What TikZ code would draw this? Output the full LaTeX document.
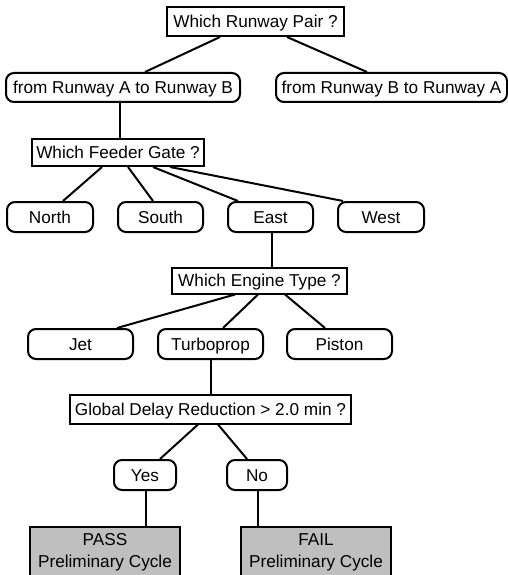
\documentclass[tikz,border=0pt]{standalone}
\usepackage{fontspec}
\setmainfont{Liberation Sans}
\begin{document}
\begin{tikzpicture}[x=1pt,y=-1pt,
  base/.style={draw=black, line width=2pt, inner sep=0pt, text height=12.3pt, text depth=0pt,
    font=\fontsize{17.2}{22}\selectfont, minimum height=29pt},
  qbox/.style={base, rectangle},
  abox/.style={base, rectangle, rounded corners=8pt, minimum height=30pt},
  endbox/.style={draw=black, line width=2pt, fill=gray!50, inner sep=0pt, anchor=north,
    font=\fontsize{17.2}{22}\selectfont, minimum width=150pt, text height=18pt, text depth=50pt},
  conn/.style={line width=2pt}]
\useasboundingbox (0,0) rectangle (508,575);
\node[qbox, minimum width=177pt] (q1) at (255.5,21.5) {Which Runway Pair ?};
\node[abox, minimum width=234pt, minimum height=29pt] (rA) at (123,87.5) {from Runway A to Runway B};
\node[abox, minimum width=231pt, minimum height=29pt] (rB) at (391.5,87.5) {from Runway B to Runway A};
\node[qbox, minimum width=172pt, minimum height=27pt] (gate) at (118,152.5) {Which Feeder Gate ?};
\node[abox, minimum width=86pt] (north) at (50,217) {North};
\node[abox, minimum width=85pt] (south) at (160.5,217) {South};
\node[abox, minimum width=85pt] (east) at (270.5,217) {East};
\node[abox, minimum width=86pt] (west) at (381,217) {West};
\node[qbox, minimum width=175pt, minimum height=26pt] (engine) at (259.5,280.5) {Which Engine Type ?};
\node[abox, minimum width=105pt] (jet) at (80.5,344) {Jet};
\node[abox, minimum width=105pt] (turbo) at (210.5,344) {Turboprop};
\node[abox, minimum width=105pt] (piston) at (339.5,344) {Piston};
\node[qbox, minimum width=281pt] (global) at (210.5,409) {Global Delay Reduction > 2.0 min ?};
\node[abox, minimum width=62pt] (yes) at (145,475) {Yes};
\node[abox, minimum width=60pt] (no) at (257,475) {No};
\node[endbox] (pass) at (105,526) {\begin{tabular}[t]{@{}c@{}}PASS\\Preliminary Cycle\end{tabular}};
\node[endbox] (fail) at (316,526) {\begin{tabular}[t]{@{}c@{}}FAIL\\Preliminary Cycle\end{tabular}};

\draw[conn] ([xshift=-35.5pt]q1.south) -- ([xshift=22pt]rA.north);
\draw[conn] ([xshift=31.5pt]q1.south) -- ([xshift=-24.5pt]rB.north);
\draw[conn] ([xshift=-3pt]rA.south) -- ([xshift=2pt]gate.north);
\draw[conn] ([xshift=-16pt]gate.south) -- ([xshift=13pt]north.north);
\draw[conn] ([xshift=10pt]gate.south) -- ([xshift=-7.5pt]south.north);
\draw[conn] ([xshift=35pt]gate.south) -- ([xshift=-32.5pt]east.north);
\draw[conn] ([xshift=52pt]gate.south) -- ([xshift=-38pt]west.north);
\draw[conn] ([xshift=1.5pt]east.south) -- ([xshift=12.5pt]engine.north);
\draw[conn] ([xshift=-24.5pt]engine.south) -- ([xshift=36.5pt]jet.north);
\draw[conn] ([xshift=-1.5pt]engine.south) -- ([xshift=12.5pt]turbo.north);
\draw[conn] ([xshift=25.5pt]engine.south) -- ([xshift=-14.5pt]piston.north);
\draw[conn] ([xshift=0.5pt]turbo.south) -- ([xshift=0.5pt]global.north);
\draw[conn] ([xshift=-12.5pt]global.south) -- ([xshift=15pt]yes.north);
\draw[conn] ([xshift=7.5pt]global.south) -- ([xshift=-10pt]no.north);
\draw[conn] ([xshift=1pt]yes.south) -- ([xshift=41pt]pass.north);
\draw[conn] ([xshift=1pt]no.south) -- ([xshift=-58pt]fail.north);
\end{tikzpicture}
\end{document}
